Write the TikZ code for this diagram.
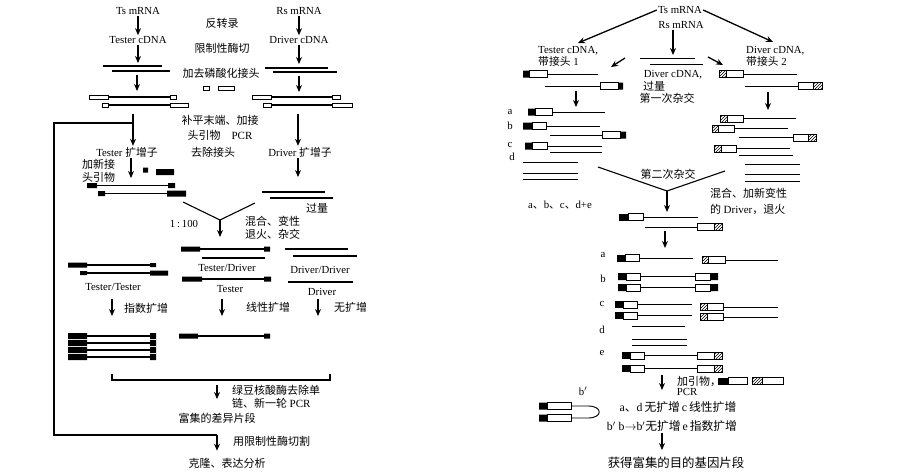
\documentclass[tikz,border=0pt]{standalone}
\usepackage{fontspec}
\setmainfont{Liberation Serif}
\newfontfamily\cjk{Noto Sans CJK SC}
\usetikzlibrary{arrows.meta,calc,patterns}

\begin{document}
\begin{tikzpicture}[x=1pt, y=-1pt, >={Stealth[length=7pt,width=6pt]},
  every node/.style={font=\fontsize{10.8}{12}\selectfont, inner sep=1pt},
  lbl/.style={font=\cjk\fontsize{11}{13}\selectfont},
  flow/.style={->, line width=1.3pt},
  strand/.style={line width=1.1pt},
  sstrand/.style={line width=0.9pt},
  adw/.style={draw, line width=0.8pt, fill=white},
  adh/.style={draw, line width=0.8pt, pattern=north east lines}]
\fill[white] (0,0) rectangle (903,475);

% left: Tester
\node (ts) at (138,11) {Ts mRNA};
\node (tc) at (138,40) {Tester cDNA};
\draw[flow] (ts) -- (tc);
\coordinate (tcut) at (138,63);
\draw[flow] (tc) -- (tcut);
\draw[strand] (103,66) -- (162,66) (112,71) -- (170,71);
\coordinate (tl1) at (137,75);
\coordinate (tl2) at (137,91);
\draw[flow] (tl1) -- (tl2);
\draw[strand] (108,97) -- (170,97) (108,105) -- (170,105);
\draw[adw] (89,95) rectangle (108,99.5) (170,95) rectangle (176,99.5)
  (102,103) rectangle (108,107.5) (170,103) rectangle (188,107.5);
\node (tamp) at (127,152) {Tester {\cjk 扩增子}};
\coordinate (tp1) at (133,114);
\draw[flow] (tp1) -- (tp1 |- tamp.north);

% middle texts
\node[lbl] (rt) at (222,23) {反转录};
\node[lbl] (re) at (222,48) {限制性酶切};
\node[lbl] (lig) at (221,73) {加去磷酸化接头};
\draw[adw] (203,86) rectangle (209,90) (218,86) rectangle (234,90);
\node[lbl, align=center] (fillin) at (220,128) {补平末端、加接\\[2pt]头引物\quad{\rmfamily PCR}};
\node[lbl] (rmad) at (213,152) {去除接头};

% left: Driver
\node (rs) at (299,11) {Rs mRNA};
\node (dc) at (299,40) {Driver cDNA};
\draw[flow] (rs) -- (dc);
\coordinate (dcut) at (299,64);
\draw[flow] (dc) -- (dcut);
\draw[strand] (265,68) -- (328,68) (273,72) -- (337,72);
\coordinate (dl1) at (299,76);
\coordinate (dl2) at (299,92);
\draw[flow] (dl1) -- (dl2);
\draw[strand] (271,97) -- (332,97) (271,105) -- (332,105);
\draw[adw] (252,95) rectangle (271,99.5) (332,95) rectangle (340,99.5)
  (263,103) rectangle (271,107.5) (332,103) rectangle (352,107.5);
\node (damp) at (300,152) {Driver {\cjk 扩增子}};
\coordinate (dp1) at (298,114);
\draw[flow] (dp1) -- (dp1 |- damp.north);

% new adaptors
\node[lbl, align=left, anchor=west] (newad) at (81,171) {加新接\\头引物};
\coordinate (tn) at (131,178);
\draw[flow] (tamp.south -| tn) -- (tn);
\fill (143,167.5) rectangle (148,172.5) (156,169) rectangle (174,175);
\draw[strand] (97,185.5) -- (168,185.5) (105,193.5) -- (167,193.5);
\fill (87,183) rectangle (97,188) (168,183) rectangle (175,188)
  (98,191) rectangle (105,196) (167,190.5) rectangle (186,196.5);
\coordinate (dn) at (298,177);
\draw[flow] (damp.south -| dn) -- (dn);
\draw[strand] (262,192) -- (325,192) (270,198) -- (333,198);
\node[lbl] (excess) at (317,208) {过量};

% hybridization
\coordinate (mixv) at (220,220);
\coordinate (mixe) at (220,237);
\draw[strand] (183,202) -- (mixv) -- (255,203);
\draw[flow] (mixv) -- (mixe);
\node (ratio) at (184,224) {1\,:\,100};
\node[lbl, align=left, anchor=west] (mix) at (244,228) {混合、变性\\退火、杂交};

% Tester/Tester
\draw[strand] (87,265) -- (150,265) (87,273) -- (150,273);
\fill (68,262.5) rectangle (87,267.5) (150,263) rectangle (156,267)
  (80,271) rectangle (87,275) (150,270.5) rectangle (168,275.5);
\node (tt) at (113,287) {Tester/Tester};
\coordinate (tt1) at (112,299);
\coordinate (tt2) at (112,316);
\draw[flow] (tt1) -- (tt2);
\node[lbl, anchor=west] (expo) at (123,308) {指数扩增};

% Tester/Driver
\draw[strand] (200,249) -- (264,249) (202,258) -- (265,258) (202,279) -- (264,279);
\fill (181,246.5) rectangle (200,251.5) (264,246.5) rectangle (270,251.5)
  (182,276.5) rectangle (202,281.5) (264,276.5) rectangle (271,281.5);
\node (td) at (227,268) {Tester/Driver};
\node (tsg) at (230,289) {Tester};
\coordinate (td1) at (222,299);
\coordinate (td2) at (222,316);
\draw[flow] (td1) -- (td2);
\node[lbl, anchor=west] (lin) at (245,307) {线性扩增};

% Driver/Driver
\draw[strand] (285,249) -- (348,249) (293,256) -- (357,256) (288,282) -- (353,282);
\node (dd) at (320,270) {Driver/Driver};
\node (dsg) at (322,292) {Driver};
\coordinate (dd1) at (318,299);
\coordinate (dd2) at (318,316);
\draw[flow] (dd1) -- (dd2);
\node[lbl, anchor=west] (noamp) at (333,307) {无扩增};

% products
\foreach \y in {336,343,350,357} {
  \draw[strand] (87,\y) -- (150,\y);
  \fill (68,\y-3) rectangle (87,\y+3) (150,\y-3) rectangle (156,\y+3);
}
\draw[strand] (198,336) -- (264,336);
\fill (179,333.5) rectangle (198,338.5) (264,333.5) rectangle (270,338.5);

\draw[strand] (112,374) -- (112,380) -- (330,380) -- (330,374);
\coordinate (br1) at (217,385);
\coordinate (br2) at (217,399);
\draw[flow] (br1) -- (br2);
\node[lbl, align=left, anchor=north west] (mung) at (231,384) {绿豆核酸酶去除单\\链、新一轮 {\rmfamily PCR}};
\node[lbl] (enr) at (217,418) {富集的差异片段};
\node[lbl, anchor=west] (rcut) at (232,441) {用限制性酶切割};
\node[lbl] (clone) at (227,463) {克隆、表达分析};
\coordinate (back) at (217,435);
\draw[strand] (133,123) -- (54,123) -- (54,435) -- (back);
\draw[flow, shorten >=6pt] (back) -- (back |- clone.north);

% right panel
\node (ts2) at (680,10) {Ts mRNA};
\node (rs2) at (681,25) {Rs mRNA};
\node[align=left, anchor=west] (tc2) at (537,56) {Tester cDNA,\\{\cjk 带接头} 1};
\node[align=left, anchor=west] (dc2) at (745,56) {Diver cDNA,\\{\cjk 带接头} 2};
\coordinate (tcin) at (578,43);
\coordinate (dcin) at (773,42);
\draw[flow] (ts2.west) -- (tcin);
\draw[flow] (ts2.east) -- (dcin);
\coordinate (rsd) at (673,55);
\draw[flow] (rs2.south -| rsd) -- (rsd);
\draw[sstrand] (640,58) -- (695,58) (650,64) -- (703,64);
\node (dx) at (673,75) {Diver cDNA,};
\node[lbl] (dxa) at (654,86) {过量};
\node[lbl] (hyb1) at (667,98) {第一次杂交};
\coordinate (s1a) at (625,58);
\coordinate (s1b) at (611,67);
\coordinate (s2a) at (708,57);
\coordinate (s2b) at (723,65);
\draw[flow] (s1a) -- (s1b);
\draw[flow] (s2a) -- (s2b);

% first hybridization, tester side
\draw[sstrand] (547,74) -- (598,74) (545,86) -- (600,86);
\fill (523,70.5) rectangle (529,77.5) (618,82.5) rectangle (623,89.5);
\draw[adw] (529,70.5) rectangle (547,77.5) (600,82.5) rectangle (618,89.5);
\coordinate (t1a) at (576,91);
\coordinate (t1b) at (576,107);
\draw[flow] (t1a) -- (t1b);
\node (la) at (510,112) {a};
\node (lb) at (510,126) {b};
\node (lc) at (510,145) {c};
\node (ld) at (512,157) {d};
\draw[sstrand] (552,112) -- (605,112) (546,126) -- (600,126) (550,135) -- (602,135)
  (547,146) -- (602,146) (550,152) -- (602,152)
  (523,162) -- (578,162) (523,173) -- (578,173) (523,179) -- (578,179);
\fill (528,108.5) rectangle (535,115.5) (523,122.5) rectangle (532,129.5)
  (620,131.5) rectangle (626,138.5) (525,142.5) rectangle (532,149.5);
\draw[adw] (535,108.5) rectangle (552,115.5) (532,122.5) rectangle (546,129.5)
  (602,131.5) rectangle (620,138.5) (532,142.5) rectangle (547,149.5);

% first hybridization, driver side
\draw[sstrand] (743,74) -- (797,74) (745,86) -- (798,86);
\draw[adh] (719,70.5) rectangle (726,77.5) (813,82.5) rectangle (822,89.5);
\draw[adw] (726,70.5) rectangle (743,77.5) (798,82.5) rectangle (813,89.5);
\coordinate (d1a) at (768,92);
\coordinate (d1b) at (768,110);
\draw[flow] (d1a) -- (d1b);
\draw[sstrand] (743,118.5) -- (796,118.5) (734,128.5) -- (788,128.5) (739,137.5) -- (793,137.5)
  (736,148.5) -- (790,148.5) (739,155.5) -- (793,155.5)
  (745,164) -- (800,164) (745,174) -- (800,174) (745,181) -- (800,181);
\draw[adh] (720,115) rectangle (727,122) (712,125) rectangle (718,132)
  (808,134) rectangle (816,141) (714,145) rectangle (721,152);
\draw[adw] (727,115) rectangle (743,122) (718,125) rectangle (734,132)
  (793,134) rectangle (808,141) (721,145) rectangle (736,152);

% second hybridization
\coordinate (hv) at (667,191);
\coordinate (hve) at (667,212);
\draw[strand] (598,167) -- (hv) -- (725,171);
\draw[flow] (hv) -- (hve);
\node[lbl] (hyb2) at (668,174) {第二次杂交};
\node[lbl, align=left, anchor=west] (mix2) at (709,201) {混合、加新变性\\[3pt]的 {\rmfamily Driver}，退火};
\node (abcd) at (560,205) {a{\cjk 、}b{\cjk 、}c{\cjk 、}d+e};
\draw[sstrand] (643,217) -- (698,217) (645,227) -- (697,227);
\fill (619,213.5) rectangle (628,220.5);
\draw[adw] (628,213.5) rectangle (643,220.5) (697,223.5) rectangle (714,230.5);
\draw[adh] (714,223.5) rectangle (722,230.5);
\coordinate (e1a) at (665,231);
\coordinate (e1b) at (665,248);
\draw[flow] (e1a) -- (e1b);

% products of second hybridization
\node (pa) at (603,255) {a};
\node (pb) at (603,279) {b};
\node (pc) at (602,304) {c};
\node (pd) at (602,330) {d};
\node (pe) at (602,353) {e};
\fill (617,254.5) rectangle (625,261.5);
\draw[adw] (625,254.5) rectangle (639,261.5);
\draw[sstrand] (639,258) -- (693,258) (725,260) -- (778,260);
\draw[adh] (702,256.5) rectangle (708,263.5);
\draw[adw] (708,256.5) rectangle (725,263.5);
\foreach \y in {276.5,287.5} {
  \draw[sstrand] (640,\y) -- (695,\y);
  \fill (618,\y-3.5) rectangle (626,\y+3.5) (710,\y-3.5) rectangle (718,\y+3.5);
  \draw[adw] (626,\y-3.5) rectangle (640,\y+3.5) (695,\y-3.5) rectangle (710,\y+3.5);
}
\foreach \y in {304.5,315.5} {
  \draw[sstrand] (637,\y) -- (692,\y);
  \fill (615,\y-3.5) rectangle (623,\y+3.5);
  \draw[adw] (623,\y-3.5) rectangle (637,\y+3.5);
}
\foreach \y in {307,317} {
  \draw[sstrand] (723,\y) -- (778,\y);
  \draw[adh] (700,\y-3.5) rectangle (707,\y+3.5);
  \draw[adw] (707,\y-3.5) rectangle (723,\y+3.5);
}
\draw[sstrand] (632,326) -- (685,326) (632,339) -- (687,339) (632,345) -- (687,345);
\foreach \y in {355.5,368.5} {
  \draw[sstrand] (644,\y) -- (697,\y);
  \fill (622,\y-3.5) rectangle (630,\y+3.5);
  \draw[adw] (630,\y-3.5) rectangle (644,\y+3.5) (697,\y-3.5) rectangle (714,\y+3.5);
  \draw[adh] (714,\y-3.5) rectangle (722,\y+3.5);
}

% PCR
\coordinate (pcr1) at (662,375);
\coordinate (pcr2) at (662,390);
\draw[flow] (pcr1) -- (pcr2);
\node[lbl, anchor=west] (addp) at (676,381) {加引物，};
\fill (718,377.5) rectangle (728,384.5);
\draw[adw] (728,377.5) rectangle (747,384.5) (762,377.5) rectangle (783,384.5);
\draw[adh] (752,377.5) rectangle (762,384.5);
\node (pcr) at (687,392) {PCR};
\node[font=\fontsize{11.8}{13}\selectfont] (res1) at (678,407) {a{\cjk 、}d\,{\cjk 无扩增}\,c\,{\cjk 线性扩增}};
\node[font=\fontsize{11.8}{13}\selectfont] (res2) at (672,426) {b$'$\ b$\to$b$'${\cjk 无扩增}\,e\,{\cjk 指数扩增}};
\node[lbl, font=\cjk\fontsize{12.4}{14}\selectfont] (final) at (676,463) {获得富集的目的基因片段};
\coordinate (fin1) at (662,433);
\draw[flow, shorten >=6pt] (fin1) -- (fin1 |- final.north);

% panhandle
\node (bp) at (583,391) {b$'$};
\fill (539,402.5) rectangle (547,409.5) (539,414.5) rectangle (547,421.5);
\draw[adw] (547,402.5) rectangle (571,409.5) (547,414.5) rectangle (571,421.5);
\draw[sstrand] (571,406) -- (588,406) .. controls (603,406) and (603,418) .. (588,418) -- (571,418);
\end{tikzpicture}
\end{document}
